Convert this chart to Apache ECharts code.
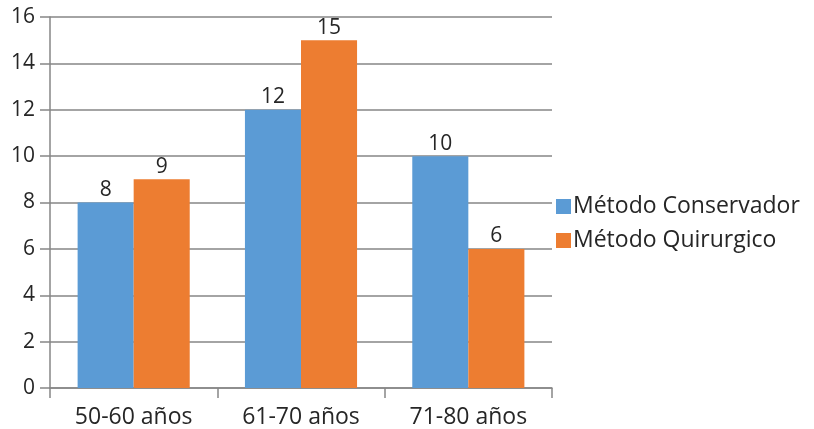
<!DOCTYPE html>
<html><head><meta charset="utf-8">
<script src="https://cdn.jsdelivr.net/npm/echarts@6/dist/echarts.min.js"></script>
<style>html,body{margin:0;padding:0;background:#fff}#c{width:814px;height:429px}</style>
</head><body><div id="c"></div>
<script>
const categories = ['50-60 años', '61-70 años', '71-80 años'];
const conservador = [8, 12, 10];
const quirurgico = [9, 15, 6];
const seriesNames = ['Método Conservador', 'Método Quirurgico'];

const chart = echarts.init(document.getElementById('c'));
const font = "'Open Sans', 'DejaVu Sans', sans-serif";
const lbl = {show: true, position: 'top', color: '#262626', fontSize: 21, fontFamily: font, distance: 2};
chart.setOption({
  animation: false,
  textStyle: {fontFamily: font},
  grid: {left: 50, right: 262, top: 17, bottom: 41},
  legend: {
    orient: 'vertical', left: 556, top: 195, itemGap: 11, padding: 0,
    itemWidth: 15, itemHeight: 15, icon: 'rect',
    textStyle: {fontSize: 23, color: '#262626', fontFamily: font, padding: [0,0,0,-3]},
    data: seriesNames
  },
  xAxis: {
    type: 'category', data: categories,
    axisLine: {lineStyle: {color: '#868686', width: 1.5}},
    axisTick: {show: true, length: 10, lineStyle: {color: '#868686', width: 1.5}},
    axisLabel: {fontSize: 23, color: '#262626', margin: 18, fontFamily: font}
  },
  yAxis: {
    type: 'value', min: 0, max: 16, interval: 2,
    axisLine: {show: true, lineStyle: {color: '#868686', width: 1.5}},
    axisTick: {show: true, length: 10, lineStyle: {color: '#868686', width: 1.5}},
    splitLine: {lineStyle: {color: '#868686', width: 1.5}},
    axisLabel: {fontSize: 21, color: '#262626', margin: 15, fontFamily: font}
  },
  series: [
    {name: seriesNames[0], type: 'bar', data: conservador, barGap: '0%', barCategoryGap: '33%',
     itemStyle: {color: '#5B9BD5'}, label: lbl},
    {name: seriesNames[1], type: 'bar', data: quirurgico,
     itemStyle: {color: '#ED7D31'}, label: lbl}
  ]
});
</script></body></html>
